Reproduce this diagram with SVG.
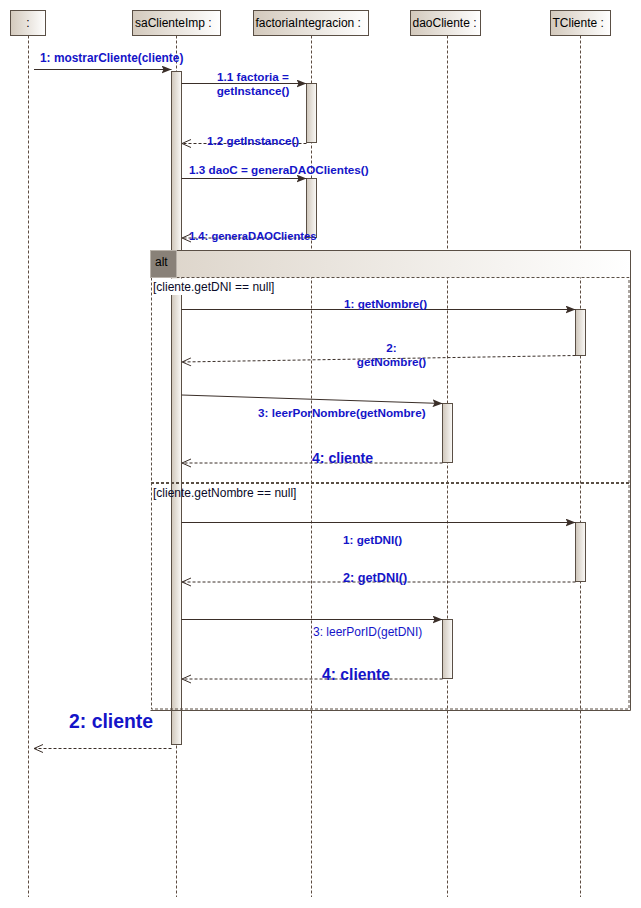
<svg xmlns="http://www.w3.org/2000/svg" width="641" height="908" viewBox="0 0 641 908">
<defs>
<linearGradient id="gBox" x1="0" y1="0" x2="1" y2="0">
<stop offset="0" stop-color="#d3c9bc"/>
<stop offset="1" stop-color="#ffffff"/>
</linearGradient>
<linearGradient id="gBar" x1="0" y1="0" x2="1" y2="0">
<stop offset="0" stop-color="#cfc6ba"/>
<stop offset="1" stop-color="#fbfaf8"/>
</linearGradient>
<linearGradient id="gBand" x1="0" y1="0" x2="1" y2="0">
<stop offset="0" stop-color="#dcd4c9"/>
<stop offset="1" stop-color="#ffffff"/>
</linearGradient>
<marker id="aFill" viewBox="0 0 10 8" refX="10" refY="4" markerWidth="10" markerHeight="8" markerUnits="userSpaceOnUse" orient="auto">
<path d="M0,0 L10,4 L0,8 L2,4 z" fill="#3a2e28"/>
</marker>
<marker id="aOpen" viewBox="-1 -1 11 10" refX="9" refY="4" markerWidth="11" markerHeight="10" markerUnits="userSpaceOnUse" orient="auto">
<path d="M0,0 L9,4 L0,8" fill="none" stroke="#3a2e28" stroke-width="1"/>
</marker>
</defs>
<style>
.box{fill:url(#gBox);stroke:#5a4f45;stroke-width:1}
.bar{fill:url(#gBar);stroke:#5a4f45;stroke-width:1}
.life{stroke:#5c4b40;stroke-width:1;stroke-dasharray:3,2;fill:none}
.hd{font-family:"Liberation Sans",Arial,sans-serif;font-size:12px;fill:#000}
.msg{stroke:#3a2e28;stroke-width:1;fill:none;marker-end:url(#aFill)}
.ret{stroke:#3a2e28;stroke-width:1;fill:none;stroke-dasharray:3,2;marker-end:url(#aOpen)}
.lb{font-family:"Liberation Sans",Arial,sans-serif;font-size:11.7px;font-weight:bold;fill:#1414c8}
.lr{font-family:"Liberation Sans",Arial,sans-serif;font-size:12px;fill:#1414c8}
.gd{font-family:"Liberation Sans",Arial,sans-serif;font-size:12px;fill:#0a0a28}
</style>
<rect width="641" height="908" fill="#ffffff"/>

<g id="lifelines">
<line class="life" x1="28.5" y1="35.5" x2="28.5" y2="897"/>
<line class="life" x1="176.5" y1="35.5" x2="176.5" y2="897"/>
<line class="life" x1="311.5" y1="35.5" x2="311.5" y2="897"/>
<line class="life" x1="447.5" y1="35.5" x2="447.5" y2="897"/>
<line class="life" x1="580.5" y1="35.5" x2="580.5" y2="897"/>
</g>

<g id="node-anon">
<rect class="box" x="10.5" y="10.5" width="35" height="25"/>
<text class="hd" x="28" y="27" text-anchor="middle">:</text>
</g>
<g id="node-saClienteImp">
<rect class="box" x="132.5" y="10.5" width="88" height="25"/>
<text class="hd" x="135" y="27">saClienteImp :</text>
<rect class="bar" x="171.5" y="71.5" width="10" height="673"/>
</g>
<g id="node-factoriaIntegracion">
<rect class="box" x="253.5" y="10.5" width="115" height="25"/>
<text class="hd" x="255.5" y="27">factoriaIntegracion :</text>
<rect class="bar" x="306.5" y="83.5" width="10" height="59"/>
<rect class="bar" x="306.5" y="178.5" width="10" height="59"/>
</g>
<g id="node-daoCliente">
<rect class="box" x="410.5" y="10.5" width="70" height="25"/>
<text class="hd" x="412.5" y="27">daoCliente :</text>
<rect class="bar" x="442.5" y="403.5" width="10" height="59"/>
<rect class="bar" x="442.5" y="619.5" width="10" height="59"/>
</g>
<g id="node-TCliente">
<rect class="box" x="550.5" y="10.5" width="60" height="25"/>
<text class="hd" x="552.5" y="27">TCliente :</text>
<rect class="bar" x="575.5" y="309.5" width="10" height="46"/>
<rect class="bar" x="575.5" y="522.5" width="10" height="59"/>
</g>

<g id="frame-alt">
<rect x="150.5" y="250.5" width="480" height="27" fill="url(#gBand)"/>
<path d="M150.5,277.5 V250.5 H630.5 V710.5 H150.5" fill="none" stroke="#5a4f45" stroke-width="1"/>
<rect x="151.5" y="277.5" width="477.5" height="431.5" fill="none" stroke="#5a4f45" stroke-width="1" stroke-dasharray="3,2"/>
<rect x="150.5" y="250.5" width="26" height="27" fill="#898178" stroke="#b9b2aa" stroke-width="1"/>
<text class="hd" x="155" y="266">alt</text>
<rect x="152" y="278.5" width="125" height="16.5" fill="#ffffff"/>
<text class="gd" x="153" y="291">[cliente.getDNI == null]</text>
<line x1="151" y1="483" x2="629" y2="483" stroke="#5a4f45" stroke-width="2" stroke-dasharray="3,2"/>
<text class="gd" x="153" y="497">[cliente.getNombre == null]</text>
</g>

<g id="connectors">
<line class="msg" x1="34" y1="69.5" x2="171.5" y2="69.5"/>
<line class="msg" x1="181.5" y1="83.5" x2="306.5" y2="83.5"/>
<line class="ret" x1="306.5" y1="143.5" x2="182" y2="143.5"/>
<line class="msg" x1="181.5" y1="178.5" x2="306.5" y2="178.5"/>
<line class="ret" x1="306.5" y1="238" x2="182" y2="238"/>
<line class="msg" x1="181.5" y1="309.5" x2="575.5" y2="309.5"/>
<line class="ret" x1="575.5" y1="355.5" x2="182" y2="362"/>
<line class="msg" x1="181.5" y1="395" x2="442.5" y2="403.5"/>
<line class="ret" x1="442.5" y1="463" x2="182" y2="463"/>
<line class="msg" x1="181.5" y1="522.5" x2="575.5" y2="522.5"/>
<line class="ret" x1="575.5" y1="582" x2="182" y2="582"/>
<line class="msg" x1="181.5" y1="619.5" x2="442.5" y2="619.5"/>
<line class="ret" x1="442.5" y1="679" x2="182" y2="679"/>
<line class="ret" x1="171.5" y1="748.5" x2="34" y2="748.5"/>
</g>

<g id="labels">
<text class="lb" x="40" y="61.5" style="font-size:11.9px">1: mostrarCliente(cliente)</text>
<text class="lb" x="253" y="81" text-anchor="middle">1.1 factoria =</text>
<text class="lb" x="253" y="94.5" text-anchor="middle">getInstance()</text>
<text class="lb" x="207" y="145">1.2 getInstance()</text>
<text class="lb" x="189" y="174">1.3 daoC = generaDAOClientes()</text>
<text class="lb" x="189" y="240" style="font-size:11.2px">1.4: generaDAOClientes</text>
<text class="lb" x="344" y="308">1: getNombre()</text>
<text class="lb" x="391.5" y="352" text-anchor="middle">2:</text>
<text class="lb" x="391.5" y="366" text-anchor="middle">getNombre()</text>
<text class="lb" x="258" y="417">3: leerPorNombre(getNombre)</text>
<text class="lb" x="312" y="463" style="font-size:14.1px">4: cliente</text>
<text class="lb" x="343" y="544">1: getDNI()</text>
<text class="lb" x="343" y="581.5" style="font-size:12.7px">2: getDNI()</text>
<text class="lr" x="313" y="636">3: leerPorID(getDNI)</text>
<text class="lb" x="322" y="680" style="font-size:15.7px">4: cliente</text>
<text class="lb" x="69" y="728" style="font-size:19.4px">2: cliente</text>
</g>
</svg>
